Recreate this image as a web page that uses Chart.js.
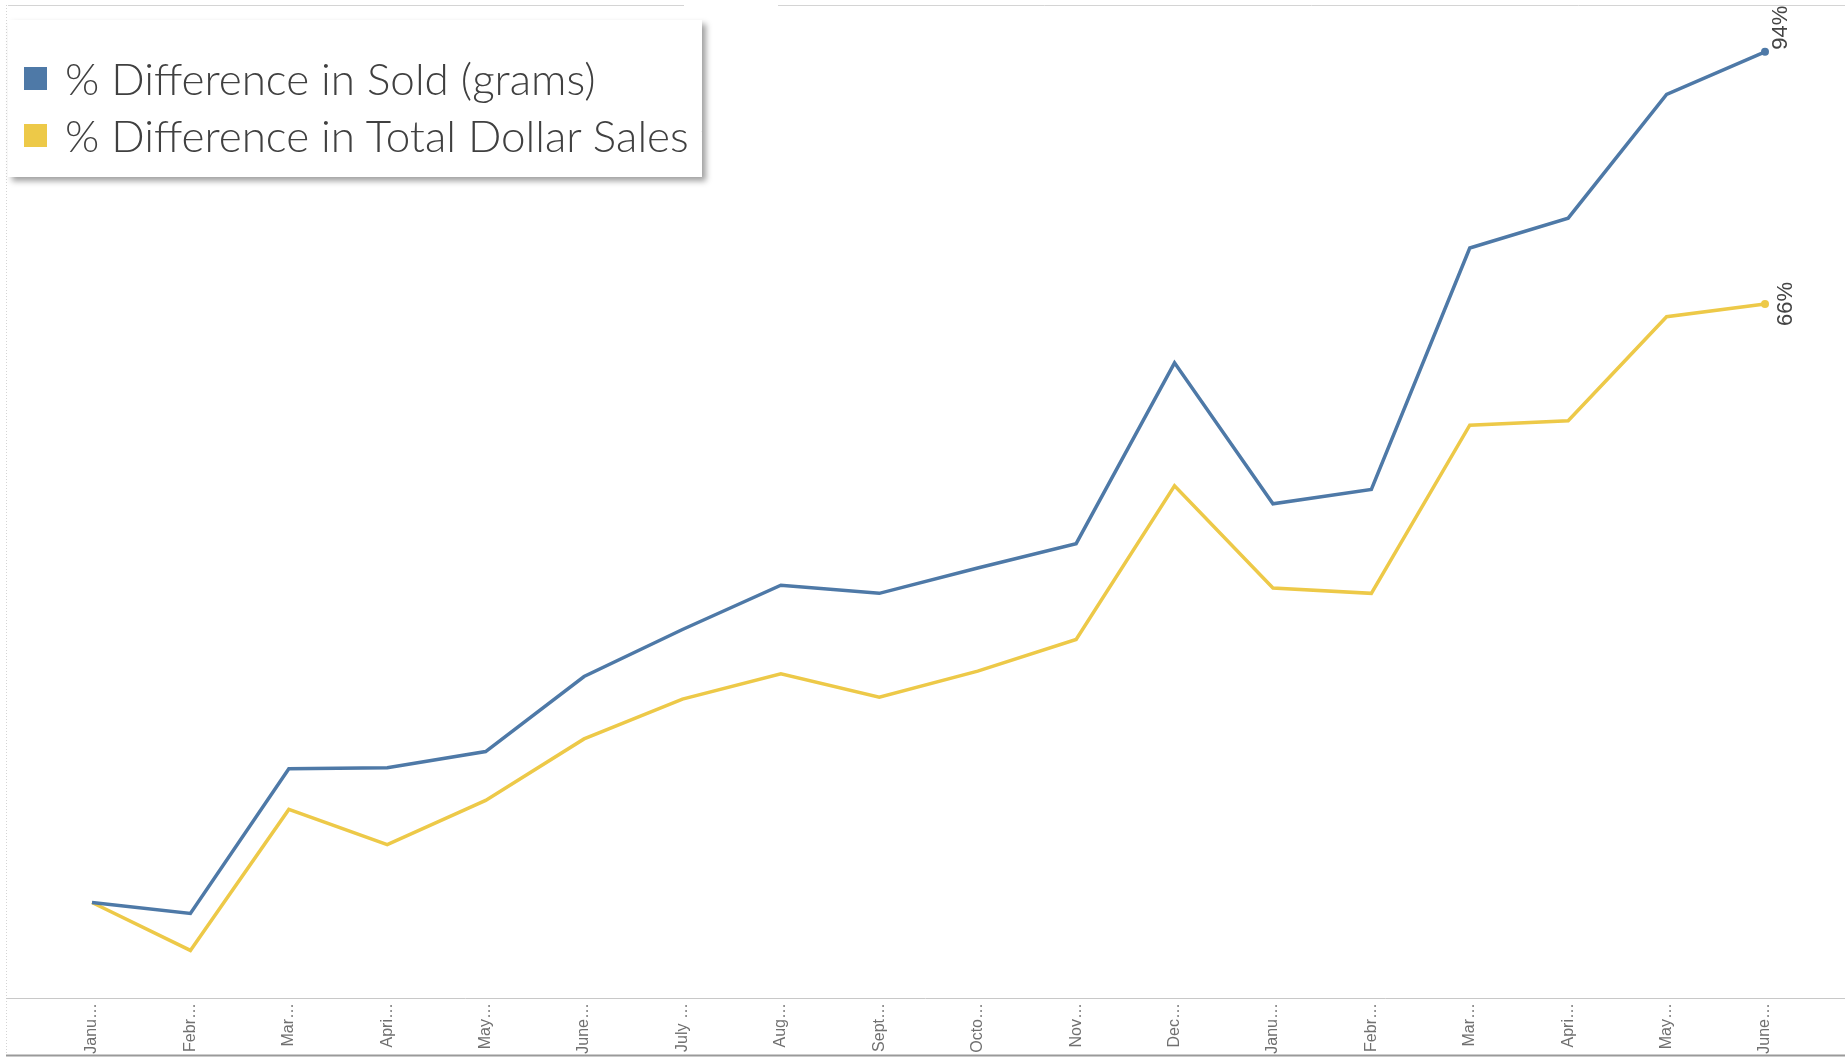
<!DOCTYPE html>
<html>
<head>
<meta charset="utf-8">
<title>% Difference by Month</title>
<script src="https://cdn.jsdelivr.net/npm/chart.js@4/dist/chart.umd.min.js"></script>
<style>
  html, body { margin: 0; padding: 0; background: #fff; }
  #wrap { position: relative; width: 1845px; height: 1057px; overflow: hidden; }
  #legend {
    position: absolute; left: 8px; top: 20px; width: 694px; height: 157px;
    background: #fff; box-shadow: 4px 4px 6px rgba(0,0,0,0.38); overflow: hidden;
    font-family: Lato, "Open Sans", sans-serif; font-size: 44px; font-weight: 300; color: #404040;
  }
  .row { position: absolute; left: 0; white-space: nowrap; height: 46px; line-height: 46px; }
  .sq { position: absolute; left: 16px; top: 12px; width: 23px; height: 23px; }
  .txt { position: absolute; left: 57px; top: 0; }
</style>
</head>
<body>
<div id="wrap">
  <canvas id="lineChart" width="1845" height="1057"></canvas>
  <div id="legend"></div>
</div>
<script>
var months = ["Janu…", "Febr…", "Mar…", "Apri…", "May…", "June…", "July …", "Aug…", "Sept…",
  "Octo…", "Nov…", "Dec…", "Janu…", "Febr…", "Mar…", "Apri…", "May…", "June…"];
var seriesNames = ["% Difference in Sold (grams)", "% Difference in Total Dollar Sales to Previous Month"];
var soldPct = [0, -1.2, 14.8, 14.9, 16.7, 25.0, 30.2, 35.1, 34.2, 37.0, 39.7, 59.7, 44.1, 45.7, 72.4, 75.7, 89.4, 94.1];
var salesPct = [0, -5.3, 10.3, 6.4, 11.3, 18.1, 22.5, 25.3, 22.7, 25.6, 29.1, 46.1, 34.8, 34.2, 52.8, 53.3, 64.8, 66.2];
var colors = ["#4e79a7", "#edc948"];

function lastDot(arr) {
  return arr.map(function (v, i) { return i === arr.length - 1 ? 4 : 0; });
}

// frame lines like the workbook view
var framePlugin = {
  id: "frame",
  beforeDraw: function (chart) {
    var ctx = chart.ctx;
    var w = chart.width, h = chart.height;
    var bottom = chart.chartArea.bottom;
    ctx.save();
    ctx.lineWidth = 1;
    ctx.strokeStyle = "#d4d4d4";
    ctx.beginPath();
    ctx.moveTo(8, 5.5); ctx.lineTo(684, 5.5);
    ctx.moveTo(778, 5.5); ctx.lineTo(w, 5.5);
    ctx.stroke();
    ctx.setLineDash([1, 2]);
    ctx.beginPath();
    ctx.moveTo(6.5, 5); ctx.lineTo(6.5, h - 2);
    ctx.stroke();
    ctx.setLineDash([]);
    ctx.strokeStyle = "#c8c8c8";
    ctx.beginPath();
    ctx.moveTo(6, bottom + 0.5); ctx.lineTo(w, bottom + 0.5);
    ctx.stroke();
    ctx.strokeStyle = "#9a9a9a";
    ctx.lineWidth = 2;
    ctx.beginPath();
    ctx.moveTo(6, h - 1.5); ctx.lineTo(w, h - 1.5);
    ctx.stroke();
    ctx.restore();
  }
};

// rotated % labels at the last point of each line
var endLabelPlugin = {
  id: "endLabels",
  afterDatasetsDraw: function (chart) {
    var ctx = chart.ctx;
    ctx.save();
    ctx.font = "22px 'Liberation Sans', Arial, sans-serif";
    ctx.fillStyle = "#444";
    chart.data.datasets.forEach(function (ds, di) {
      var meta = chart.getDatasetMeta(di);
      var pt = meta.data[meta.data.length - 1];
      var val = ds.data[ds.data.length - 1];
      ctx.save();
      if (di === 0) {
        ctx.translate(pt.x + 16, pt.y - 2);
        ctx.rotate(-Math.PI / 2);
        ctx.textAlign = "left";
      } else {
        ctx.translate(pt.x + 21, pt.y);
        ctx.rotate(-Math.PI / 2);
        ctx.textAlign = "center";
      }
      ctx.textBaseline = "middle";
      ctx.fillText(Math.round(val) + "%", 0, 0);
      ctx.restore();
    });
    ctx.restore();
  }
};

var chart = new Chart("lineChart", {
  type: "line",
  data: {
    labels: months,
    datasets: [{
      label: seriesNames[0],
      data: soldPct,
      borderColor: colors[0],
      backgroundColor: colors[0],
      borderWidth: 3.5,
      pointRadius: lastDot(soldPct),
      pointBorderWidth: 0,
      tension: 0
    }, {
      label: seriesNames[1],
      data: salesPct,
      borderColor: colors[1],
      backgroundColor: colors[1],
      borderWidth: 3.5,
      pointRadius: lastDot(salesPct),
      pointBorderWidth: 0,
      tension: 0
    }]
  },
  options: {
    responsive: false,
    animation: false,
    layout: { autoPadding: false, padding: { left: 92, right: 80, top: 5, bottom: 0 } },
    plugins: { legend: { display: false }, tooltip: { enabled: false } },
    scales: {
      x: {
        offset: false,
        grid: { display: false, drawTicks: false },
        border: { display: false },
        ticks: {
          minRotation: 90, maxRotation: 90, autoSkip: false, padding: 5,
          color: "#707070",
          font: { family: "'Liberation Sans', Arial, sans-serif", size: 16 }
        },
        afterFit: function (scale) { scale.height = 59; }
      },
      y: { display: false, min: -10.56, max: 99.28 }
    }
  },
  plugins: [framePlugin, endLabelPlugin]
});

// legend built from the chart's datasets
var legendBox = document.getElementById("legend");
var rowTops = [35, 92];
chart.data.datasets.forEach(function (ds, i) {
  var row = document.createElement("div");
  row.className = "row";
  row.style.top = rowTops[i] + "px";
  row.innerHTML = '<span class="sq" style="background:' + ds.borderColor + '"></span>' +
    '<span class="txt">' + ds.label + '</span>';
  legendBox.appendChild(row);
});
</script>
</body>
</html>
